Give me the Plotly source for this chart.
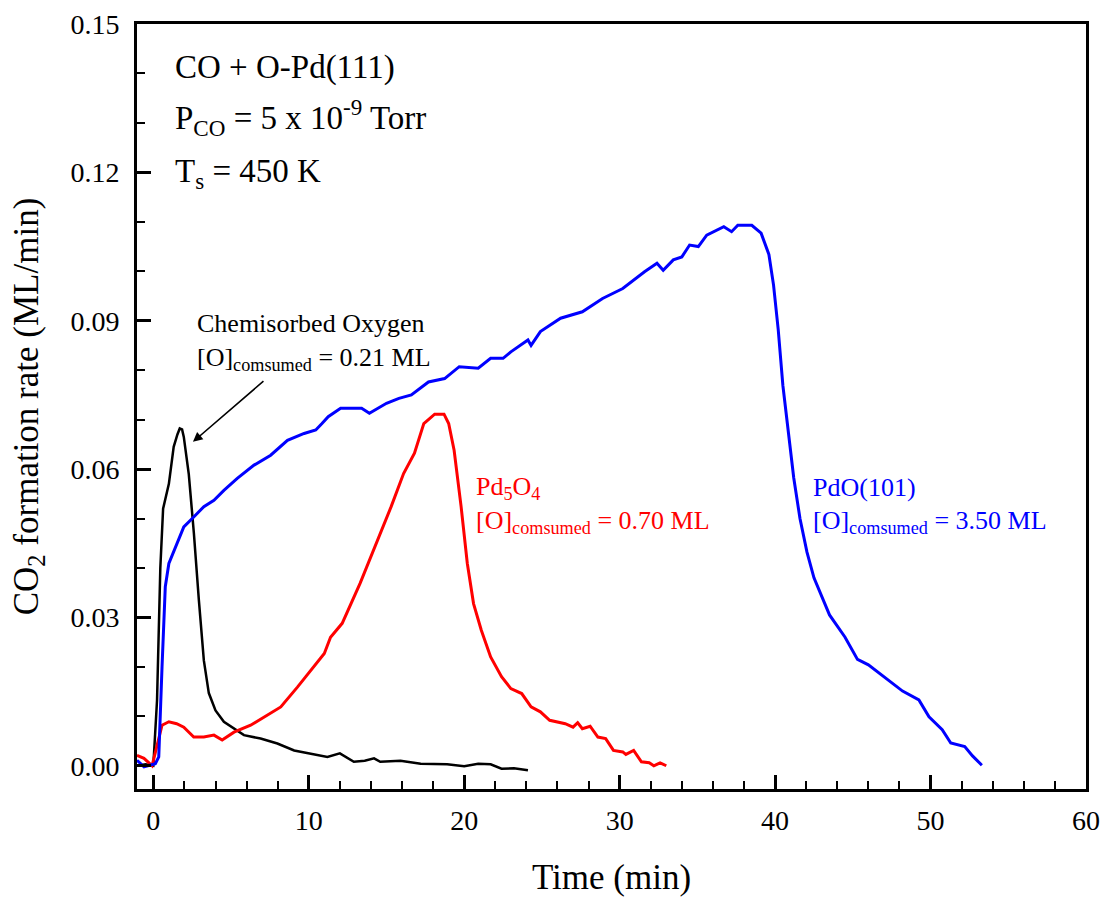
import plotly.graph_objects as go

# ---------------- data ----------------
black_t = [-1.05, -0.5, 0.0, 0.24, 0.45, 0.63, 1.0, 1.31, 1.55, 1.70, 1.85, 1.96, 2.28, 2.61, 2.93,
           3.25, 3.57, 4.0, 4.54, 5.19, 5.83, 6.9, 7.98, 9.06, 10.13, 11.2, 12.0, 12.9, 13.6, 14.2,
           14.6, 15.9, 17.2, 18.9, 20.0, 20.9, 21.7, 22.4, 23.2, 24.1]
black_r = [0.0, 0.0003, 0.0, 0.0133, 0.040, 0.052, 0.057, 0.0645, 0.067, 0.0682, 0.068, 0.0665, 0.059,
           0.047, 0.0335, 0.0213, 0.0147, 0.0112, 0.0089, 0.0075, 0.0062, 0.0055, 0.0045, 0.0031,
           0.0025, 0.0018, 0.0025, 0.0008, 0.001, 0.0015, 0.0008, 0.001, 0.0004, 0.0003, -0.0001,
           0.0004, 0.0003, -0.0006, -0.0005, -0.0009]

red_t = [-1.05, -0.6, -0.08, 0.24, 0.56, 1.0, 1.5, 1.96, 2.6, 3.25, 3.9, 4.43, 5.19, 6.26, 7.12, 8.2,
         9.27, 10.35, 11.0, 11.4, 12.15, 13.3, 14.0, 14.6, 15.3, 16.1, 16.8, 17.4, 18.1, 18.7, 19.0,
         19.35, 19.8, 20.2, 20.6, 21.1, 21.7, 22.4, 23.0, 23.7, 24.3, 24.9, 25.5, 26.5, 27.0, 27.3,
         27.6, 28.1, 28.6, 29.1, 29.6, 30.2, 30.4, 30.9, 31.4, 31.9, 32.2, 32.6, 33.0]
red_r = [0.0021, 0.0015, 0.0, 0.0038, 0.0082, 0.0089, 0.0085, 0.0078, 0.0058, 0.0058, 0.0062, 0.0052,
         0.0068, 0.0082, 0.0099, 0.0119, 0.0159, 0.020, 0.0227, 0.026, 0.0288, 0.0369, 0.0422, 0.047,
         0.0524, 0.0591, 0.0632, 0.0692, 0.0711, 0.0711, 0.0692, 0.0638, 0.0524, 0.0409, 0.0328,
         0.0274, 0.022, 0.018, 0.0156, 0.0146, 0.0119, 0.0109, 0.0092, 0.0085, 0.0078, 0.0087,
         0.0075, 0.008, 0.0058, 0.0055, 0.0031, 0.0028, 0.0023, 0.0031, 0.0008, 0.0006, 0.0, 0.0006, 0.0]

blue_t = [-1.05, -0.6, 0.13, 0.35, 0.56, 0.77, 1.0, 1.42, 1.96, 2.6, 3.25, 3.9, 4.54, 5.4, 6.48, 7.55,
          8.63, 9.7, 10.45, 10.85, 11.25, 12.05, 13.4, 13.9, 15.0, 15.8, 16.6, 17.7, 18.74, 19.68,
          20.9, 21.7, 22.5, 23.0, 24.1, 24.3, 24.9, 26.2, 27.6, 28.9, 30.2, 31.6, 32.4, 32.8, 33.45,
          34.0, 34.5, 35.06, 35.6, 36.7, 37.2, 37.6, 38.5, 39.1, 39.6, 39.9, 40.2, 40.5, 40.9, 41.2,
          41.6, 42.05, 42.5, 43.0, 43.5, 44.5, 45.3, 46.0, 47.1, 48.2, 49.25, 49.9, 50.75, 51.3,
          52.2, 52.7, 53.3]
blue_r = [0.0011, -0.0002, 0.0004, 0.0018, 0.020, 0.0362, 0.0409, 0.0443, 0.0483, 0.0503, 0.0524,
          0.0537, 0.0557, 0.0581, 0.0608, 0.0628, 0.0658, 0.0672, 0.0679, 0.0692, 0.0706, 0.0723,
          0.0723, 0.0713, 0.0733, 0.0743, 0.075, 0.0776, 0.0783, 0.0807, 0.0804, 0.0824, 0.0824,
          0.0837, 0.0861, 0.085, 0.0878, 0.0905, 0.0918, 0.0945, 0.0965, 0.0999, 0.1016, 0.1002,
          0.1023, 0.1029, 0.1053, 0.105, 0.1073, 0.109, 0.108, 0.1093, 0.1093, 0.1077, 0.1034,
          0.0972, 0.0882, 0.0769, 0.0657, 0.0582, 0.050, 0.0432, 0.038, 0.0342, 0.0305, 0.026,
          0.0215, 0.0204, 0.0177, 0.0151, 0.0133, 0.0099, 0.0073, 0.0046, 0.0039, 0.002, 0.0001]

x_ticks = [0, 10, 20, 30, 40, 50, 60]
y_ticks = [0.00, 0.03, 0.06, 0.09, 0.12, 0.15]

FONT = "Liberation Serif, Times New Roman, serif"

fig = go.Figure()
fig.add_trace(go.Scatter(x=black_t, y=black_r, mode="lines",
                         line=dict(color="black", width=2.5), showlegend=False))
fig.add_trace(go.Scatter(x=red_t, y=red_r, mode="lines",
                         line=dict(color="#ff0000", width=3), showlegend=False))
fig.add_trace(go.Scatter(x=blue_t, y=blue_r, mode="lines",
                         line=dict(color="#0000ff", width=3), showlegend=False))

annos = [
    dict(text="CO + O-Pd(111)", x=1.25, y=0.1413, size=33, color="black"),
    dict(text="P<sub>CO</sub> = 5 x 10<sup>-9</sup> Torr", x=1.25, y=0.1310, size=33, color="black"),
    dict(text="T<sub>s</sub> = 450 K", x=1.25, y=0.1198, size=33, color="black"),
    dict(text="Chemisorbed Oxygen", x=2.7, y=0.0895, size=26, color="black"),
    dict(text="[O]<sub>comsumed</sub> = 0.21 ML", x=2.7, y=0.0822, size=26, color="black"),
    dict(text="Pd<sub>5</sub>O<sub>4</sub>", x=20.65, y=0.0562, size=26, color="#ff0000"),
    dict(text="[O]<sub>comsumed</sub> = 0.70 ML", x=20.65, y=0.0492, size=26, color="#ff0000"),
    dict(text="PdO(101)", x=42.3, y=0.0562, size=26, color="#0000ff"),
    dict(text="[O]<sub>comsumed</sub> = 3.50 ML", x=42.3, y=0.0492, size=26, color="#0000ff"),
]
for a in annos:
    fig.add_annotation(text=a["text"], x=a["x"], y=a["y"], xref="x", yref="y",
                       xanchor="left", yanchor="middle", showarrow=False,
                       font=dict(family=FONT, size=a["size"], color=a["color"]))

# arrow pointing to the chemisorbed-oxygen peak
fig.add_annotation(x=2.55, y=0.0655, xref="x", yref="y", ax=72, ay=-62, text="",
                   showarrow=True, arrowhead=2, arrowsize=1.2, arrowwidth=1.6, arrowcolor="black")

fig.update_layout(
    width=1104, height=898,
    margin=dict(l=137, r=18, t=24, b=109, autoexpand=False),
    paper_bgcolor="white", plot_bgcolor="white",
    font=dict(family=FONT, color="black"),
    xaxis=dict(range=[-1.05, 60], tickvals=x_ticks, ticks="inside", ticklen=14, tickwidth=2.5,
               tickcolor="black", showline=True, linewidth=3, linecolor="black", mirror=True,
               showgrid=False, zeroline=False, tickfont=dict(size=28), automargin=False,
               ticklabelstandoff=4,
               minor=dict(dtick=2, tick0=0, ticks="inside", ticklen=8, tickwidth=2, tickcolor="black",
                          showgrid=False),
               title=dict(text="Time (min)", font=dict(size=35), standoff=30)),
    yaxis=dict(range=[-0.0047, 0.15], tickvals=y_ticks, tickformat=".2f", ticks="inside", ticklen=14,
               tickwidth=2.5, tickcolor="black", showline=True, linewidth=3, linecolor="black",
               mirror=True, showgrid=False, zeroline=False, tickfont=dict(size=28), automargin=False,
               ticklabelstandoff=9,
               minor=dict(dtick=0.01, tick0=0, ticks="inside", ticklen=8, tickwidth=2,
                          tickcolor="black", showgrid=False),
               title=dict(text="CO<sub>2</sub> formation rate (ML/min)", font=dict(size=35), standoff=22)),
)

# remove the default page margin so the 1104x898 figure fills the window exactly
fig.write_html("out.html", config={"displayModeBar": False},
               post_script="document.body.style.margin='0px';document.body.style.overflow='hidden';")
